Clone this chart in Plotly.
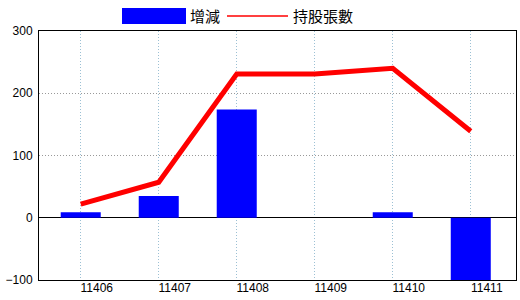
import plotly.graph_objects as go

months = ["11406", "11407", "11408", "11409", "11410", "11411"]
change = [9, 35, 174, 0, 9, -101]
holdings = [22, 57, 231, 231, 240, 139]

W, H = 520, 300
L, R, T, B = 39, 4, 31, 20
PW, PH = W - L - R, H - T - B

def px(x):
    return (x - L) / PW

def py(y):
    return (H - B - y) / PH

fig = go.Figure()
fig.add_trace(go.Bar(x=months, y=change, name="增減", marker_color="#0000ff",
                     marker_line_width=0, width=0.513))
fig.add_trace(go.Scatter(x=months, y=holdings, name="持股張數", mode="lines",
                         line=dict(color="#ff0000", width=5)))

# custom legend
fig.add_shape(type="rect", xref="paper", yref="paper", x0=px(122), x1=px(186),
              y0=py(24), y1=py(8), fillcolor="#0000ff", line_width=0, layer="above")
fig.add_shape(type="line", xref="paper", yref="paper", x0=px(227), x1=px(288),
              y0=py(16), y1=py(16), line=dict(color="#ff0000", width=1.5))
fig.add_annotation(xref="paper", yref="paper", x=px(188), y=py(16), text="增減",
                   showarrow=False, xanchor="left", yanchor="middle",
                   font=dict(family="Noto Sans CJK TC", size=15, color="black"))
fig.add_annotation(xref="paper", yref="paper", x=px(291), y=py(16), text="持股張數",
                   showarrow=False, xanchor="left", yanchor="middle",
                   font=dict(family="Noto Sans CJK TC", size=15, color="black"))

fig.update_layout(
    width=W, height=H, margin=dict(l=L, r=R, t=T, b=B, autoexpand=False),
    paper_bgcolor="white", plot_bgcolor="white", showlegend=False,
    font=dict(family="Liberation Sans", size=12, color="black"),
)
fig.update_xaxes(type="category", range=[-0.535, 5.58], showgrid=True,
                 gridcolor="#9cc0d4", griddash="1px,2px", gridwidth=1,
                 showline=True, linecolor="black", linewidth=1, mirror=True,
                 ticks="", ticklabelshift=16, ticklabelstandoff=-3, automargin=False)
fig.update_yaxes(range=[-100, 300], dtick=100, showgrid=True,
                 gridcolor="#999999", griddash="1px,2px", gridwidth=1,
                 zeroline=True, zerolinecolor="black", zerolinewidth=1,
                 showline=True, linecolor="black", linewidth=1, mirror=True,
                 ticks="", ticklabelstandoff=3, automargin=False)

fig.write_html("out.html")
